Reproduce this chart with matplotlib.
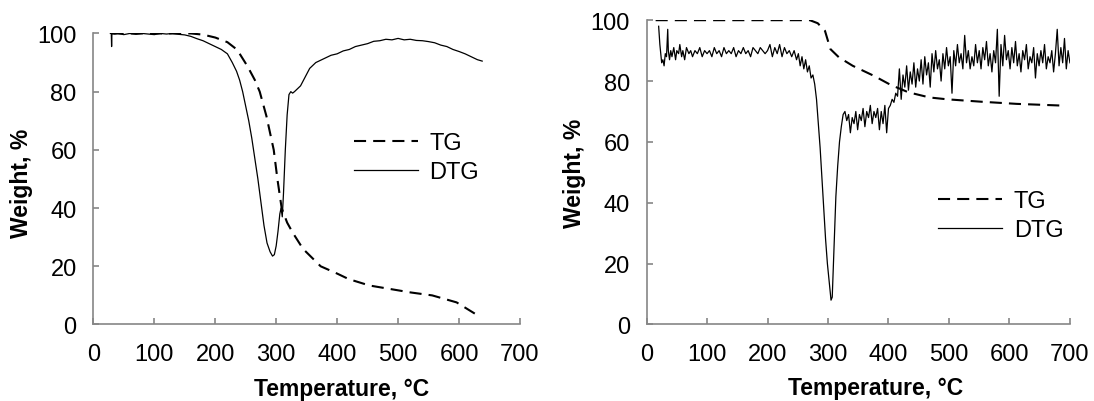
import numpy as np
import matplotlib.pyplot as plt

plt.rcParams['font.family'] = ['Liberation Sans', 'DejaVu Sans']

# ---- left sample ----
tg1_t = [30, 100, 160, 180, 200, 220, 236, 253, 265, 273, 284, 296, 302, 309, 318, 327,
         344, 373, 400, 419, 453, 487, 521, 556, 596, 627]
tg1_w = [100, 100, 100, 99.6, 98.6, 97, 94.4, 88.7, 84, 80, 71.6, 60, 50, 40, 35, 31.6,
         26, 20, 17.5, 15.6, 13.4, 12.2, 11, 10, 7.6, 3.6]

dtg1_t = [28, 29.5, 30, 30.5, 35, 40, 50, 60, 70, 80, 90, 100, 110, 120, 130, 140, 150, 160,
          170, 180, 190, 200, 210, 220, 228, 235, 240, 245, 250, 255, 260, 265, 270, 275,
          280, 285, 290, 294, 297, 300, 303, 306, 308, 310, 312, 315, 318, 321, 324, 327,
          330, 335, 340, 345, 350, 355, 360, 365, 370, 380, 390, 400, 410, 420, 430, 440,
          450, 460, 470, 480, 490, 500, 510, 520, 530, 540, 550, 560, 570, 580, 590, 600,
          610, 620, 630, 638]
dtg1_w = [100, 100, 95.5, 100, 99.8, 100, 99.6, 100, 99.7, 100, 99.8, 99.6, 100, 99.8, 100,
          99.7, 99.5, 99, 98.2, 97.5, 96.5, 95.5, 94.5, 93, 90, 87, 84, 80, 75, 70, 64, 57,
          50, 42, 34, 28, 25, 23.5, 24, 27, 32, 38, 40, 37, 45, 60, 72, 79, 80, 79.5, 80, 81,
          82, 84, 86, 88, 89, 90, 90.5, 91.5, 92.5, 93, 94, 94.5, 95.5, 96, 96.5, 97.3, 97.5,
          98, 97.8, 98.3, 97.8, 98, 97.6, 97.5, 97.2, 96.8, 96, 95.5, 94.5, 93.8, 93, 92, 91,
          90.5]

# ---- right sample ----
tg2_t = [15, 100, 200, 270, 283, 295, 304, 318, 341, 376, 404, 433, 468, 497, 554, 612, 692]
tg2_w = [100, 100, 100, 100, 99, 96.5, 90.5, 87.8, 85, 81.7, 78.7, 76.3, 74.6, 74, 73.2,
         72.5, 71.9]

dtg2_t = [20, 22, 25, 27, 29, 31, 33, 35, 36, 38, 40, 42, 45, 48, 50, 53, 55, 58, 60, 63,
          66, 70, 73, 76, 80, 84, 88, 92, 96, 100, 104, 108, 112, 116, 120, 124, 128, 132,
          136, 140, 144, 148, 152, 156, 160, 164, 168, 172, 176, 180, 184, 188, 192, 196,
          200, 204, 208, 212, 216, 220, 224, 228, 232, 236, 240, 244, 248, 251, 254, 257,
          260, 263, 266, 269, 272, 275, 278, 281, 284, 287, 290, 293, 296, 299, 302, 305,
          307, 309, 311, 313, 316, 319, 322, 325, 328, 331, 334, 337, 340, 343, 346, 349,
          352, 355, 358, 361, 364, 367, 370, 373, 376, 379, 382, 385, 388, 391, 394, 397,
          400, 403, 406, 409, 412, 415, 418, 421, 424, 427, 430, 433, 436, 439, 442, 445,
          448, 451, 454, 457, 460, 463, 466, 469, 472, 475, 478, 481, 484, 487, 490, 493,
          496, 499, 502, 505, 508, 511, 514, 517, 520, 523, 526, 529, 532, 535, 538, 541,
          544, 547, 550, 553, 556, 559, 562, 565, 568, 571, 574, 577, 580, 583, 586, 589,
          592, 595, 598, 601, 604, 607, 610, 613, 616, 619, 622, 625, 628, 631, 634, 637,
          640, 643, 646, 649, 652, 655, 658, 661, 664, 667, 670, 673, 676, 679, 682, 685,
          688, 691, 694, 697, 700]
dtg2_w = [98, 92, 86, 87, 85, 89, 88, 97, 90, 87, 90, 88, 91, 87, 90, 89, 92, 88, 90, 87,
          91, 89, 90, 88, 90, 89, 91, 88, 90, 89, 90, 88, 91, 89, 90, 88, 91, 89, 90, 89,
          91, 88, 90, 89, 91, 89, 90, 88, 91, 90, 89, 91, 90, 89, 90, 92, 88, 91, 89, 92,
          88, 91, 89, 90, 88, 90, 87, 89, 85, 88, 84, 87, 83, 85, 81, 82, 79, 74, 66, 58,
          48, 38, 28, 20, 14, 8, 9, 20, 32, 42, 52, 60, 65, 69, 70, 67, 69, 63, 68, 66, 70,
          64, 69, 67, 71, 65, 70, 68, 72, 66, 70, 68, 71, 64, 70, 66, 72, 63, 71, 72, 74, 73,
          76, 75, 84, 74, 82, 78, 85, 77, 83, 79, 86, 78, 84, 80, 87, 79, 88, 82, 86, 78, 89,
          83, 90, 84, 87, 80, 89, 84, 91, 85, 88, 76, 90, 85, 92, 86, 89, 84, 95, 86, 90, 84,
          88, 85, 92, 86, 90, 84, 91, 87, 93, 85, 89, 83, 90, 86, 97, 75, 92, 85, 95, 87, 90,
          84, 91, 86, 93, 85, 89, 83, 90, 87, 92, 84, 88, 86, 91, 81, 89, 85, 90, 86, 92, 84,
          88, 86, 90, 83, 89, 97, 85, 91, 86, 94, 84, 90, 86]

x_ticks = [0, 100, 200, 300, 400, 500, 600, 700]
y_ticks = [0, 20, 40, 60, 80, 100]

grey = '#868686'
dash = (0, (5.8, 3.4))

fig = plt.figure(figsize=(10.94, 4.02), dpi=100)
ax1 = fig.add_axes([0.0853, 0.1903, 0.390, 0.724])
ax2 = fig.add_axes([0.591, 0.1903, 0.387, 0.757])

ax1.plot(tg1_t, tg1_w, color='black', lw=1.5, ls=dash, label='TG')
ax1.plot(dtg1_t, dtg1_w, color='black', lw=0.9, label='DTG')
ax2.plot(tg2_t, tg2_w, color='black', lw=1.5, ls=dash, label='TG')
ax2.plot(dtg2_t, dtg2_w, color='black', lw=0.9, label='DTG')

for ax in (ax1, ax2):
    ax.set_xlim(0, 700)
    ax.set_ylim(0, 100)
    ax.set_xticks(x_ticks)
    ax.set_yticks(y_ticks)
    for s in ('top', 'right'):
        ax.spines[s].set_visible(False)
    for s in ('left', 'bottom'):
        ax.spines[s].set_color(grey)
        ax.spines[s].set_linewidth(1.2)
    ax.tick_params(axis='both', direction='in', length=4, width=1.2, color=grey,
                   labelsize=17, labelcolor='black')
    ax.tick_params(axis='x', pad=13)
    ax.tick_params(axis='y', pad=12)
    ax.set_xlabel('Temperature, °C', fontsize=16.5, fontweight='bold')
    ax.set_ylabel('Weight, %', fontsize=16.5, fontweight='bold')

ax1.xaxis.set_label_coords(0.583, -0.18)
ax2.xaxis.set_label_coords(0.541, -0.17)
ax1.yaxis.set_label_coords(-0.142, 0.49)
ax2.yaxis.set_label_coords(-0.142, 0.5)

ax1.legend(loc='center left', bbox_to_anchor=(0.611, 0.573), frameon=False, fontsize=17,
           borderpad=0, borderaxespad=0, handlelength=2.7, handletextpad=0.5,
           labelspacing=0.3)
ax2.legend(loc='center left', bbox_to_anchor=(0.689, 0.358), frameon=False, fontsize=17,
           borderpad=0, borderaxespad=0, handlelength=2.7, handletextpad=0.5,
           labelspacing=0.3)

fig.savefig('out.png', dpi=100)
